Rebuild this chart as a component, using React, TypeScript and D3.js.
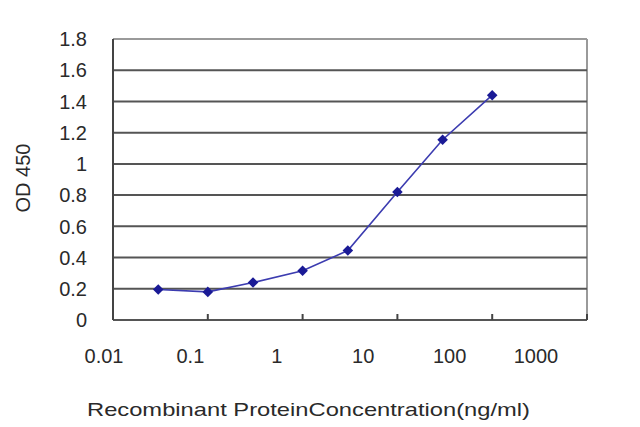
import React from "react";
import * as d3 from "d3";

const concentrations = [0.03, 0.1, 0.3, 1, 3, 10, 30, 100];
const odValues = [0.195, 0.18, 0.24, 0.315, 0.445, 0.82, 1.155, 1.44];
const xTicks = [0.01, 0.1, 1, 10, 100, 1000];
const xTickLabels = ["0.01", "0.1", "1", "10", "100", "1000"];
const yTicks = [0, 0.2, 0.4, 0.6, 0.8, 1, 1.2, 1.4, 1.6, 1.8];
const yTickLabels = ["0", "0.2", "0.4", "0.6", "0.8", "1", "1.2", "1.4", "1.6", "1.8"];
const xTitle = "Recombinant ProteinConcentration(ng/ml)";
const yTitle = "OD 450";

const W = 640;
const H = 427;
const left = 113;
const right = 587;
const top = 39;
const bottom = 320;

export default function App() {
  const x = d3.scaleLog().domain([0.01, 1000]).range([left, right]);
  const xLabel = d3.scaleLog().domain([0.01, 1000]).range([104, 536]);
  const y = d3.scaleLinear().domain([0, 1.8]).range([bottom, top]);
  const line = d3
    .line<number>()
    .x((_, i) => x(concentrations[i]))
    .y((d) => y(d));
  const font = "'Liberation Sans', Arial, sans-serif";
  const marker = d3.symbol().type(d3.symbolSquare).size(56)();

  return (
    <svg
      width={W}
      height={H}
      style={{ position: "absolute", left: 0, top: 0, background: "#fff" }}
      fontFamily={font}
    >
      <rect x={0} y={0} width={W} height={H} fill="#fff" />
      {/* plot frame */}
      <line x1={left} x2={right} y1={top} y2={top} stroke="#9a9a9a" strokeWidth={2} />
      <line x1={right} x2={right} y1={top} y2={bottom} stroke="#9a9a9a" strokeWidth={2} />
      {/* gridlines */}
      {yTicks
        .filter((t) => t > 0 && t < 1.8)
        .map((t) => (
          <line key={t} x1={left} x2={right} y1={y(t)} y2={y(t)} stroke="#555" strokeWidth={2} />
        ))}
      {/* axes */}
      <line x1={left} x2={left} y1={top} y2={bottom} stroke="#444" strokeWidth={2} />
      <line x1={left} x2={right} y1={bottom} y2={bottom} stroke="#555" strokeWidth={2} />
      {xTicks.map((t) => (
        <line key={t} x1={x(t)} x2={x(t)} y1={bottom} y2={bottom - 6} stroke="#444" strokeWidth={2} />
      ))}
      {/* y labels */}
      {yTicks.map((t, i) => (
        <text
          key={t}
          x={87}
          y={y(t)}
          dy="0.36em"
          textAnchor="end"
          fontSize={20}
          fill="#2a2a2a"
        >
          {yTickLabels[i]}
        </text>
      ))}
      {/* x labels */}
      {xTicks.map((t, i) => (
        <text key={t} x={xLabel(t)} y={363} textAnchor="middle" fontSize={20} fill="#2a2a2a">
          {xTickLabels[i]}
        </text>
      ))}
      {/* titles */}
      <text
        x={87}
        y={416}
        fontSize={19}
        fill="#2a2a2a"
        textLength={443}
        lengthAdjust="spacingAndGlyphs"
      >
        {xTitle}
      </text>
      <text
        transform={`translate(30, 178) rotate(-90)`}
        textAnchor="middle"
        fontSize={20}
        fill="#2a2a2a"
      >
        {yTitle}
      </text>
      {/* series */}
      <path d={line(odValues) || ""} fill="none" stroke="#3c3cb0" strokeWidth={1.6} />
      {odValues.map((v, i) => (
        <path
          key={i}
          d={marker || ""}
          transform={`translate(${x(concentrations[i])},${y(v)}) rotate(45)`}
          fill="#1a1a96"
        />
      ))}
    </svg>
  );
}
